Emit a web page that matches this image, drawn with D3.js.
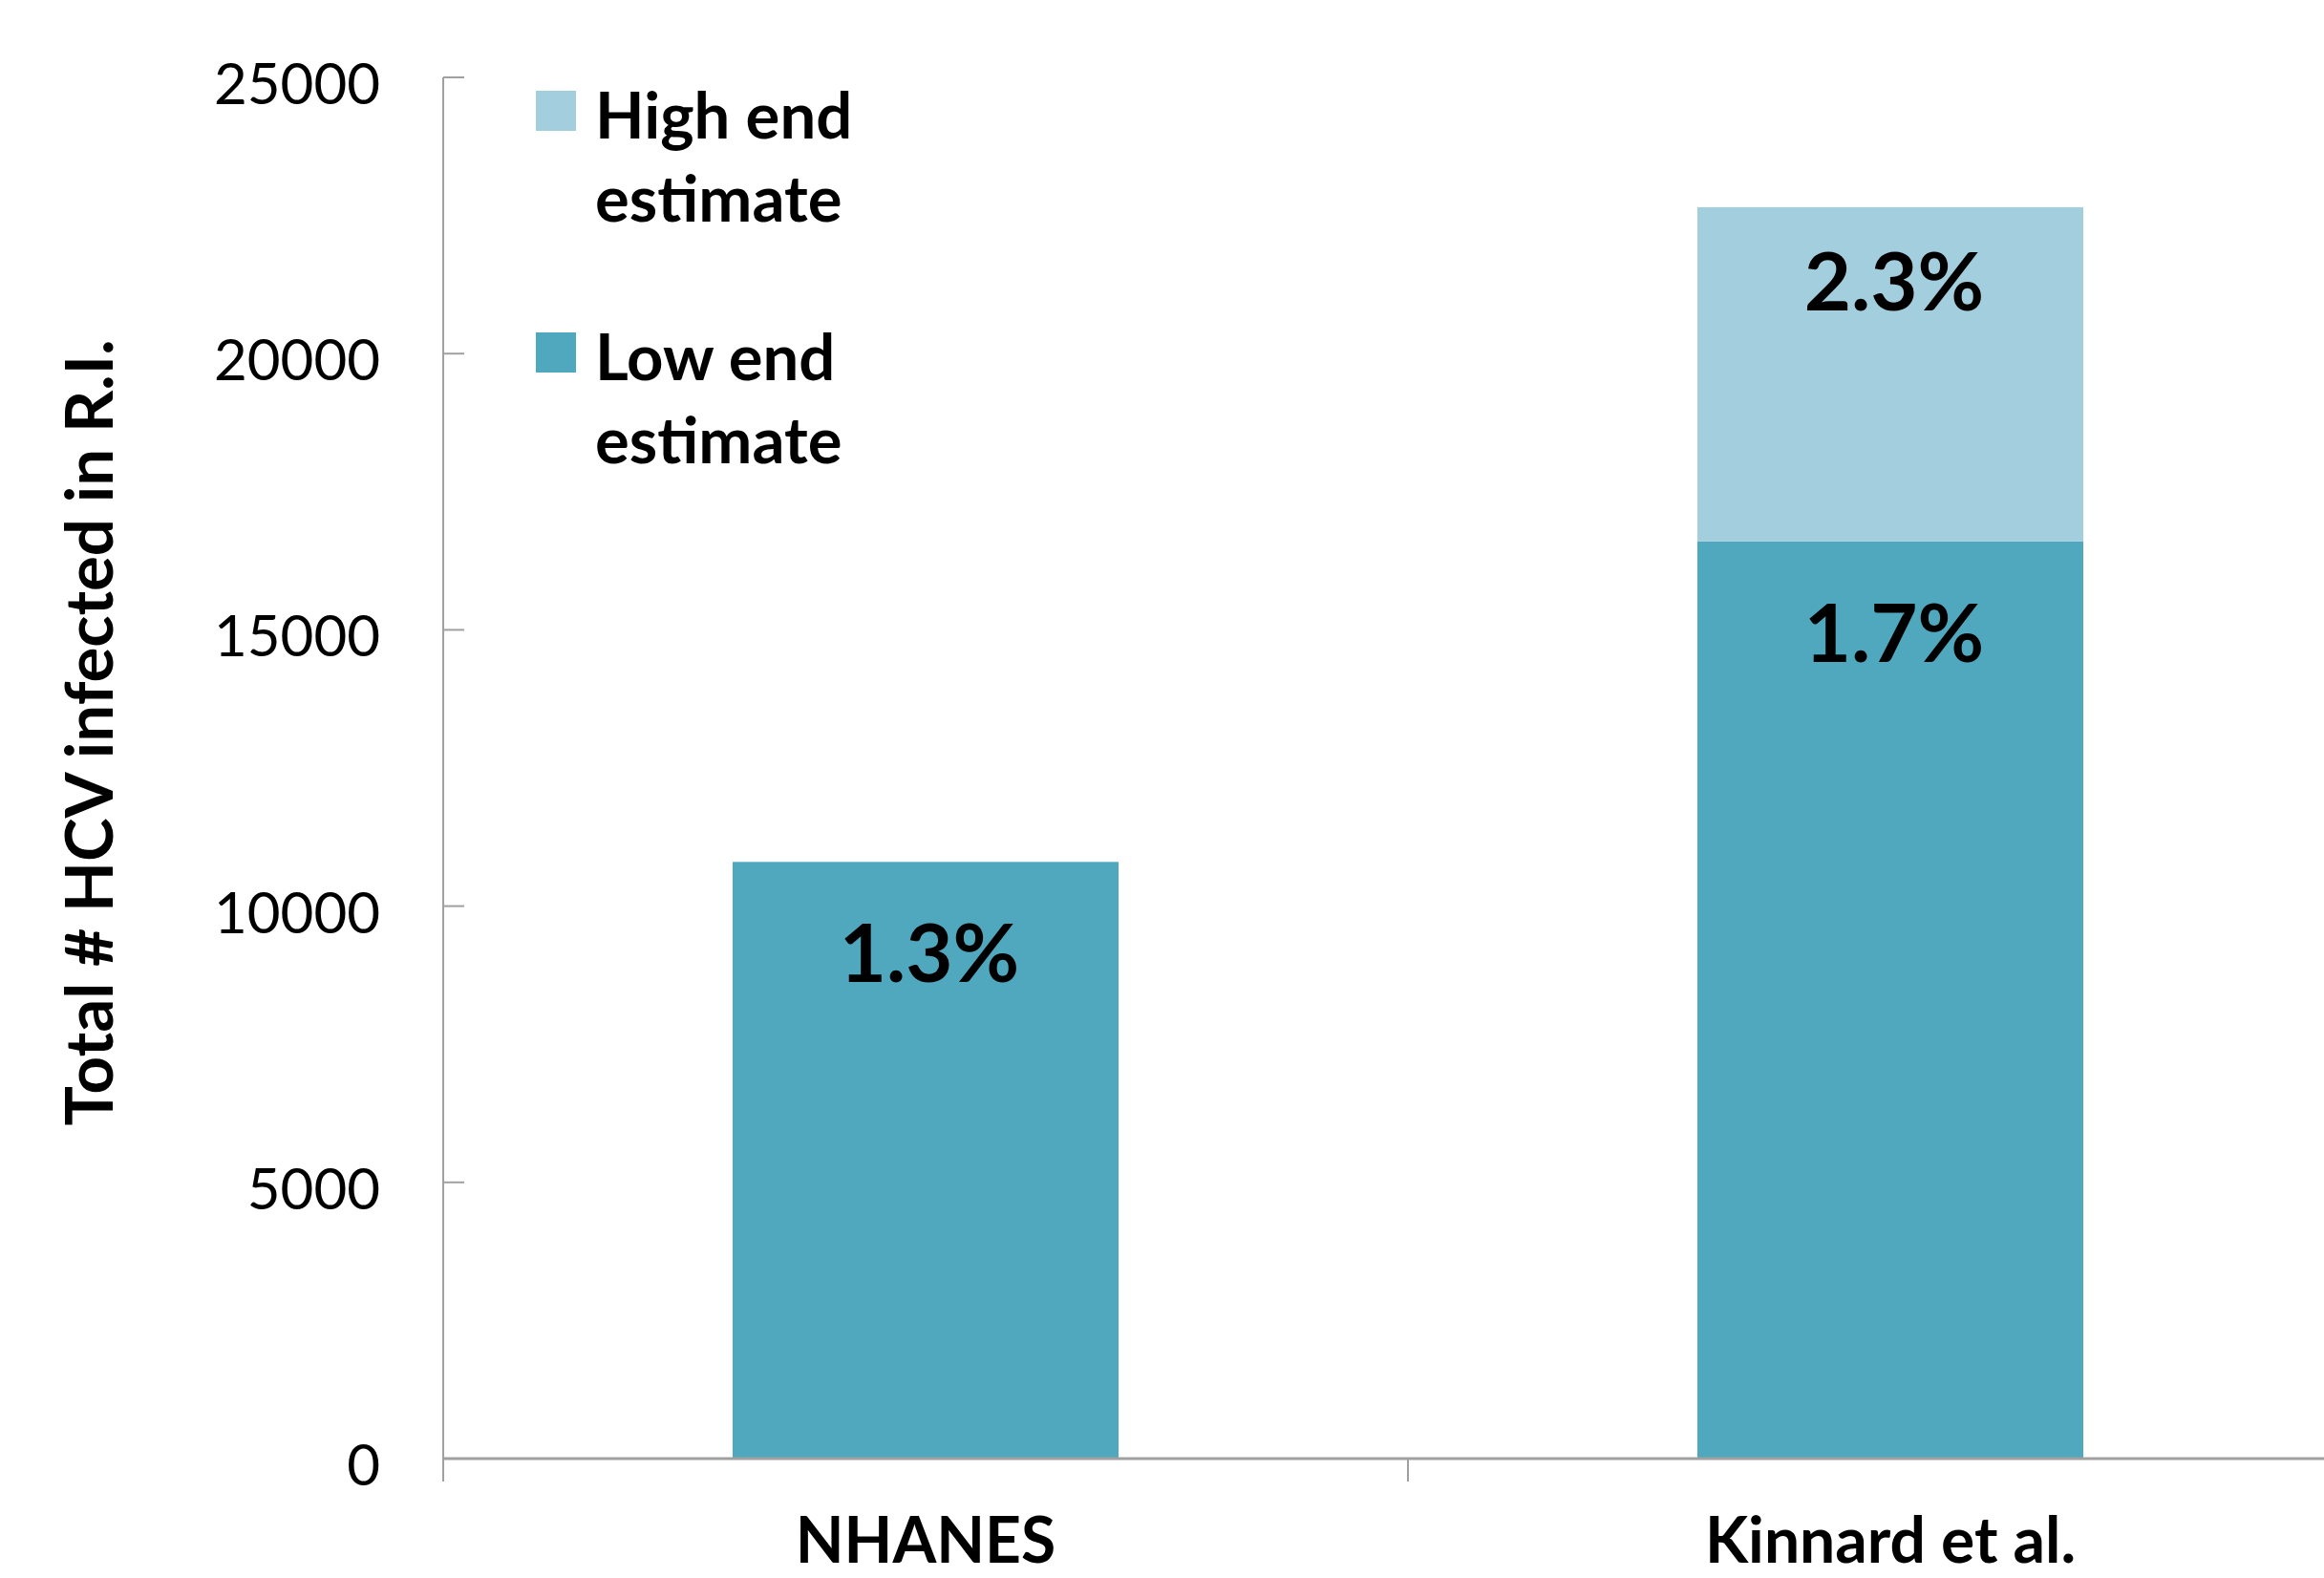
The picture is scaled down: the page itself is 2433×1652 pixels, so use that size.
<!DOCTYPE html>
<html>
<head>
<meta charset="utf-8">
<script src="https://cdn.jsdelivr.net/npm/d3@7"></script>
<style>
  body { margin: 0; background: #fff; }
  text { font-family: Lato, "Open Sans", sans-serif; fill: #000; }
</style>
</head>
<body>
<div id="chart"></div>
<script>
// data
var categories = ["NHANES", "Kinnard et al."]
var lowEnd = [10800, 16600]
var highEnd = [0, 6050]          // stacked on top of low end
var lowLabels = ["1.3%", "1.7%"]
var highLabels = ["", "2.3%"]
var yTicks = [0, 5000, 10000, 15000, 20000, 25000]
var legendNames = [["High end", "estimate"], ["Low end", "estimate"]]

var colorLow = "#50a8bf", colorHigh = "#a3cedd", axisColor = "#a0a0a0"

var width = 2433, height = 1652
var margin = {top: 81, left: 464, bottom: 1652 - 1527}
var plotRight = 2484   // plot area runs a bit past the picture edge

var svg = d3.select("#chart").append("svg")
  .attr("width", width)
  .attr("height", height)

var x = d3.scaleBand()
  .domain(categories)
  .range([margin.left, plotRight])
  .paddingInner(0.6)
  .paddingOuter(0.3)

var y = d3.scaleLinear()
  .domain([0, 25000])
  .range([height - margin.bottom, margin.top])

// bars
var stacks = categories.map(function(c, i) {
  return {cat: c, low: lowEnd[i], high: highEnd[i], lowLabel: lowLabels[i], highLabel: highLabels[i]}
})

svg.selectAll(".low").data(stacks).enter().append("rect")
  .attr("class", "low")
  .attr("x", function(d) { return x(d.cat) })
  .attr("width", x.bandwidth())
  .attr("y", function(d) { return y(d.low) })
  .attr("height", function(d) { return y(0) - y(d.low) })
  .attr("fill", colorLow)

svg.selectAll(".high").data(stacks.filter(function(d) { return d.high > 0 })).enter().append("rect")
  .attr("class", "high")
  .attr("x", function(d) { return x(d.cat) })
  .attr("width", x.bandwidth())
  .attr("y", function(d) { return y(d.low + d.high) })
  .attr("height", function(d) { return y(d.low) - y(d.low + d.high) })
  .attr("fill", colorHigh)

// bar labels
svg.selectAll(".lowLabel").data(stacks).enter().append("text")
  .attr("x", function(d) { return x(d.cat) + x.bandwidth() / 2 + 4 })
  .attr("y", function(d) { return y(d.low) + 126 })
  .attr("text-anchor", "middle")
  .style("font-size", "85px").style("font-weight", "bold")
  .text(function(d) { return d.lowLabel })

svg.selectAll(".highLabel").data(stacks.filter(function(d) { return d.high > 0 })).enter().append("text")
  .attr("x", function(d) { return x(d.cat) + x.bandwidth() / 2 + 4 })
  .attr("y", function(d) { return y(d.low + d.high) + 108 })
  .attr("text-anchor", "middle")
  .style("font-size", "85px").style("font-weight", "bold")
  .text(function(d) { return d.highLabel })

// y axis: line, inner ticks, labels
svg.append("line")
  .attr("x1", margin.left).attr("x2", margin.left)
  .attr("y1", y(25000)).attr("y2", y(0) + 24)
  .attr("stroke", axisColor).attr("stroke-width", 2)

svg.selectAll(".ytick").data(yTicks).enter().append("line")
  .attr("x1", margin.left).attr("x2", margin.left + 22)
  .attr("y1", function(d) { return y(d) }).attr("y2", function(d) { return y(d) })
  .attr("stroke", axisColor).attr("stroke-width", 2)

svg.selectAll(".ylabel").data(yTicks).enter().append("text")
  .attr("x", 398)
  .attr("y", function(d) { return y(d) + 28 })
  .attr("text-anchor", "end")
  .style("font-size", "60px")
  .text(function(d) { return d })

// x axis: line, ticks between categories, labels
svg.append("line")
  .attr("x1", margin.left).attr("x2", plotRight)
  .attr("y1", y(0)).attr("y2", y(0))
  .attr("stroke", axisColor).attr("stroke-width", 3)

var step = x.step()
var bounds = d3.range(categories.length + 1).map(function(i) { return margin.left + i * step })
svg.selectAll(".xtick").data(bounds).enter().append("line")
  .attr("x1", function(d) { return d }).attr("x2", function(d) { return d })
  .attr("y1", y(0)).attr("y2", y(0) + 24)
  .attr("stroke", axisColor).attr("stroke-width", 2)

svg.selectAll(".xlabel").data(categories).enter().append("text")
  .attr("x", function(d) { return x(d) + x.bandwidth() / 2 })
  .attr("y", 1636)
  .attr("text-anchor", "middle")
  .style("font-size", "66px").style("font-weight", "bold")
  .text(function(d) { return d })

// y axis title
svg.append("text")
  .attr("transform", "translate(118,767) rotate(-90)")
  .attr("text-anchor", "middle")
  .style("font-size", "69px").style("font-weight", "bold")
  .text("Total # HCV infected in R.I.")

// legend
var legend = svg.selectAll(".legend").data(legendNames).enter().append("g")
  .attr("transform", function(d, i) { return "translate(561," + (95 + i * 253) + ")" })

legend.append("rect")
  .attr("width", 42).attr("height", 42)
  .attr("fill", function(d, i) { return i == 0 ? colorHigh : colorLow })

legend.append("text")
  .attr("x", 62).attr("y", 50)
  .style("font-size", "67px").style("font-weight", "bold")
  .selectAll("tspan").data(function(d) { return d }).enter().append("tspan")
  .attr("x", 62)
  .attr("dy", function(d, i) { return i == 0 ? 0 : 87 })
  .text(function(d) { return d })
</script>
</body>
</html>
